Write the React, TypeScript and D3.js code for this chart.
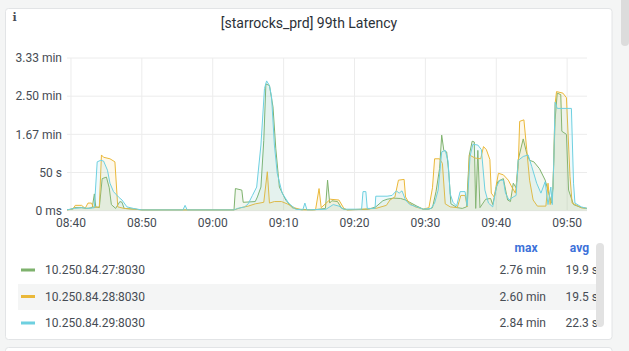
import React from 'react';
import * as d3 from 'd3';

// minutes after 08:40, latency in seconds
const hostNames = ['10.250.84.27:8030', '10.250.84.28:8030', '10.250.84.29:8030'];
const hostColors = ['#7eb26d', '#eab839', '#6ed0e0'];
const maxLabels = ['2.76 min', '2.60 min', '2.84 min'];
const avgLabels = ['19.9 s', '19.5 s', '22.3 s'];
const yTicks = [0, 50, 100, 150, 200];

const green: [number, number][] = [
  [-0.6, 1], [0, 2], [0.5, 4], [1.5, 4], [2.2, 3], [3.0, 4], [3.3, 22], [3.5, 5], [4.0, 4], [4.4, 42],
  [5.0, 44], [5.4, 30], [5.7, 8], [6.3, 3], [6.9, 12], [7.2, 11], [7.5, 3], [9, 2], [10, 1], [23.0, 1],
  [23.2, 29], [24.1, 27], [24.3, 11], [26.0, 12], [26.3, 18], [26.8, 31], [27.2, 92], [27.5, 166], [28.0, 164], [28.5, 136],
  [28.9, 81], [29.4, 31], [30.3, 14], [31.2, 4], [32, 2], [34, 1], [35, 2], [35.9, 3], [36.2, 40], [36.5, 10],
  [36.8, 13], [37.6, 12], [38.2, 3], [39, 1], [42, 2], [43, 5], [44, 13], [44.6, 15], [45.5, 16.5], [46.5, 16],
  [47.2, 14], [47.8, 11], [48.8, 6], [49.7, 2], [50.5, 2], [51.0, 4], [51.5, 25], [52.0, 55], [52.3, 99], [52.6, 79],
  [53.0, 77], [53.3, 50], [53.6, 9], [54.5, 4], [55.2, 3], [55.8, 5], [56.2, 73], [56.6, 91], [56.9, 90], [57.1, 3],
  [57.4, 79], [57.7, 4], [58.5, 15], [59.2, 16], [59.5, 8], [60.2, 38], [61.0, 42], [61.6, 14], [62.0, 12], [62.4, 36],
  [62.8, 30], [63.1, 67], [63.8, 94], [64.3, 75], [64.7, 66], [65.3, 64], [66.1, 55], [66.9, 40], [67.4, 23], [67.8, 10],
  [68.0, 30], [68.3, 119], [68.6, 154], [69.1, 152], [69.25, 104], [69.9, 100], [70.2, 27], [70.9, 8], [72, 4], [72.8, 3],
];

const yellow: [number, number][] = [
  [-0.6, 1], [0.3, 2], [0.6, 7], [1.5, 7], [2.0, 3], [2.4, 10], [2.9, 10], [3.2, 4], [4.0, 5], [4.3, 73],
  [4.6, 70], [5.5, 68], [6.2, 64], [6.6, 5], [7.5, 3], [9, 2], [10, 1], [23, 1], [24, 4], [25, 6],
  [26, 9], [27.2, 11], [27.7, 51], [28.0, 10], [28.7, 12], [29.7, 12], [30.5, 9], [31.5, 4], [32.5, 1], [34.5, 1],
  [35.0, 29], [35.3, 4], [36.6, 15], [37.8, 14], [38.5, 3], [39, 1], [43, 3], [44.5, 7], [45.0, 14], [45.7, 18],
  [46.2, 40], [47.0, 41], [47.2, 18], [47.7, 10], [48.6, 5], [49.7, 2], [50.5, 4], [51.0, 30], [51.3, 68], [52.0, 68],
  [52.4, 62], [52.8, 9], [53.5, 5], [54.5, 4], [55.0, 20], [55.6, 20], [55.9, 5], [56.2, 73], [57.0, 69], [57.8, 68],
  [58.2, 84], [58.6, 80], [59.1, 67], [59.3, 23], [59.7, 18], [60.3, 49], [61.0, 47], [61.7, 40], [62.2, 31], [62.7, 23],
  [63.1, 58], [63.3, 117], [63.9, 119], [64.3, 80], [64.7, 40], [65.2, 14], [65.8, 6], [67.0, 6], [67.3, 36], [67.6, 8],
  [68.0, 30], [68.3, 140], [68.5, 156], [69.4, 154], [69.9, 148], [70.4, 45], [70.7, 10], [72, 4], [72.8, 3],
];

const cyan: [number, number][] = [
  [-0.6, 1], [0.5, 3], [1.5, 4], [2.5, 3], [3.3, 4], [3.7, 64], [4.2, 66], [4.6, 65], [5.15, 53], [5.5, 36],
  [6.0, 25], [6.7, 18], [7.2, 14], [7.9, 5], [8.8, 3], [10, 1], [15.8, 1], [16.1, 7], [16.4, 1], [23, 1],
  [23.5, 3], [24.5, 5], [25.0, 9], [25.6, 20], [26.2, 31], [26.8, 86], [27.3, 160], [27.6, 170], [28.0, 164], [28.3, 149],
  [28.7, 86], [29.1, 49], [29.8, 23], [30.7, 10], [31.7, 2], [32.7, 1], [33.0, 10], [33.3, 1], [36, 2], [37, 8],
  [37.8, 6], [38.5, 2], [41.0, 2], [41.2, 25], [41.6, 25], [41.8, 3], [42.9, 3], [43.0, 19], [44.6, 19], [45.3, 20],
  [45.9, 26], [46.3, 23], [46.7, 26], [47.2, 14], [47.8, 8], [48.8, 5], [49.7, 2], [50.8, 3], [51.3, 10], [51.8, 27],
  [52.3, 77], [52.8, 79], [53.2, 65], [53.5, 22], [53.9, 11], [54.4, 6], [54.9, 25], [55.6, 25], [55.9, 6], [56.3, 71],
  [56.7, 87], [57.4, 86], [57.9, 80], [58.4, 27], [58.9, 10], [59.5, 5], [60.0, 31], [60.5, 40], [61.0, 40], [61.3, 23],
  [61.8, 14], [62.4, 18], [62.8, 20], [63.1, 66], [63.8, 71], [64.5, 73], [65.0, 58], [65.7, 36], [66.3, 23], [66.9, 38],
  [67.3, 8], [67.7, 31], [67.9, 8], [68.1, 60], [68.3, 142], [68.6, 134], [70.6, 134], [70.9, 36], [71.1, 10], [72, 5],
  [72.8, 3],
];

const series = [green, yellow, cyan];

const W = 629;
const H = 351;
const plot = { left: 67, right: 587, top: 58, bottom: 210.7 };
const font = 'Roboto, sans-serif';
const textColor = '#464c54';

const t0 = new Date(2024, 0, 1, 8, 40, 0);
const at = (m: number) => new Date(t0.getTime() + m * 60000);

const fmtY = (v: number) => (v <= 0 ? '0 ms' : v < 60 ? `${v} s` : `${(v / 60).toFixed(2)} min`);

export default function App() {
  const x = d3.scaleTime().domain([at(-0.56), at(72.8)]).range([plot.left, plot.right]);
  const y = d3.scaleLinear().domain([0, 200]).range([plot.bottom, plot.top]);
  const xTicks = x.ticks(d3.timeMinute.every(10) as d3.TimeInterval);
  const fmtX = d3.timeFormat('%H:%M');

  const line = d3.line<[number, number]>().x(d => x(at(d[0]))).y(d => y(d[1]));
  const area = d3.area<[number, number]>().x(d => x(at(d[0]))).y0(y(0)).y1(d => y(d[1]));

  const rowY = [270, 296.5, 323];

  return (
    <svg width={W} height={H} style={{ position: 'fixed', left: 0, top: 0 }} fontFamily={font}>
      <rect width={W} height={H} fill="#f4f5f5" />
      <rect x={5.5} y={8.5} width={606.5} height={331} rx={3} fill="#fff" stroke="#e2e4e6" />
      <rect x={5.5} y={347.5} width={606.5} height={20} rx={3} fill="#fff" stroke="#e2e4e6" />
      <rect x={621} y={-6} width={8} height={52} rx={4} fill="#dcdcdc" />

      <text x={12.5} y={20.5} fontFamily="DejaVu Serif" fontWeight="bold" fontSize={11} fill="#4a4d55">i</text>
      <text x={309} y={28} textAnchor="middle" fontSize={14} fontWeight={400} fill="#2c3138">
        [starrocks_prd] 99th Latency
      </text>

      <defs>
        <clipPath id="plotClip">
          <rect x={plot.left} y={plot.top - 2} width={plot.right - plot.left} height={plot.bottom - plot.top + 2} />
        </clipPath>
      </defs>

      {yTicks.map(v => (
        <g key={v}>
          <line x1={plot.left} x2={plot.right} y1={y(v)} y2={y(v)} stroke="#ececec" />
          <text x={62} y={y(v)} dy="0.35em" textAnchor="end" fontSize={12} fill={textColor}>{fmtY(v)}</text>
        </g>
      ))}
      {xTicks.map(t => (
        <g key={t.getTime()}>
          <line x1={x(t)} x2={x(t)} y1={plot.top} y2={plot.bottom} stroke="#ececec" />
          <text x={x(t)} y={227} textAnchor="middle" fontSize={12} fill={textColor}>{fmtX(t)}</text>
        </g>
      ))}

      <g clipPath="url(#plotClip)">
        {series.map((s, i) => (
          <g key={i}>
            <path d={area(s) || ''} fill={hostColors[i]} fillOpacity={0.1} />
            <path d={line(s) || ''} fill="none" stroke={hostColors[i]} strokeWidth={1} />
          </g>
        ))}
      </g>

      <text x={537.5} y={252} textAnchor="end" fontSize={12} fontWeight="bold" fill="#3d71d9">max</text>
      <text x={589} y={252} textAnchor="end" fontSize={12} fontWeight="bold" fill="#3d71d9">avg</text>

      <rect x={18} y={284} width={581} height={26} fill="#f4f5f5" />
      {hostNames.map((name, i) => (
        <g key={name}>
          <rect x={21} y={rowY[i] - 1.5} width={14} height={3} fill={hostColors[i]} />
          <text x={45} y={rowY[i]} dy="0.35em" fontSize={12} fill={textColor}>{name}</text>
          <text x={546} y={rowY[i]} dy="0.35em" textAnchor="end" fontSize={12} fill={textColor}>{maxLabels[i]}</text>
          <text x={598} y={rowY[i]} dy="0.35em" textAnchor="end" fontSize={12} fill={textColor}>{avgLabels[i]}</text>
        </g>
      ))}
      <rect x={596} y={243} width={8} height={84} rx={4} fill="#e2e2e2" />
    </svg>
  );
}
